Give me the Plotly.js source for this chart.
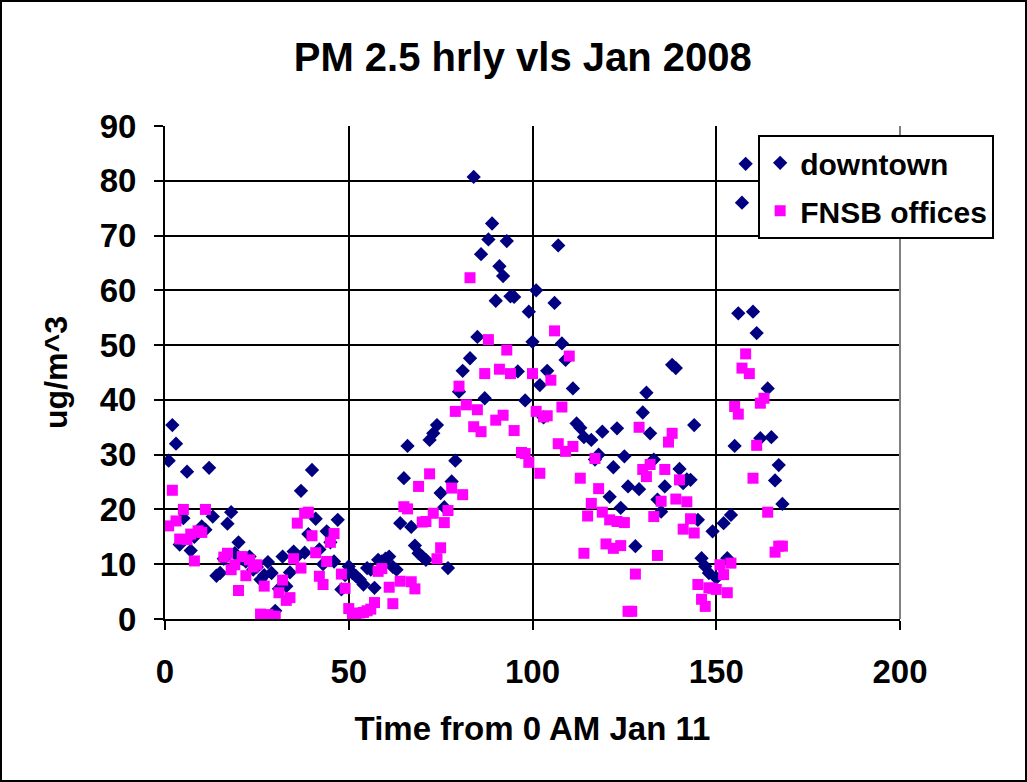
<!DOCTYPE html>
<html><head><meta charset="utf-8">
<script src="https://cdn.plot.ly/plotly-3.0.1.min.js"></script>
<style>
html,body{margin:0;padding:0;background:#fff;}
#wrap{position:relative;width:1027px;height:782px;}
#chart{width:1027px;height:782px;}
#frame{position:absolute;left:0;top:0;width:1027px;height:782px;box-sizing:border-box;border:2px solid #000;pointer-events:none;}
</style>
</head><body>
<div id="wrap"><div id="chart"></div><div id="frame"></div></div>
<script>
// Hours from 0 AM Jan 11 and PM2.5 values (ug/m^3)
const downtownHours = [1,2,3,4,5,6,7,8,9,10,11,12,13,14,15,16,17,18,19,20,21,22,23,24,25,26,27,28,29,30,31,32,33,34,35,36,37,38,39,40,41,42,43,44,45,46,47,48,49,50,51,52,53,54,55,56,57,58,59,60,61,62,63,64,65,66,67,68,69,70,71,72,73,74,75,76,77,78,79,80,81,83,84,85,86,87,88,89,90,91,92,93,94,95,96,98,99,100,101,102,103,104,106,107,108,109,111,112,113,114,116,117,118,119,121,122,123,124,125,126,128,129,130,131,132,133,134,135,136,138,139,140,141,142,143,144,145,146,147,148,149,150,152,153,154,155,156,157,158,160,161,162,164,165,166,167,168];
const downtownValues = [28.9,35.4,32.0,13.6,18.4,26.9,12.5,15.0,16.0,16.9,16.3,27.6,18.7,7.9,8.4,11.0,17.4,19.5,12.0,14.0,11.0,10.5,11.4,9.0,9.5,7.2,8.0,10.4,8.4,1.5,5.5,11.4,6.0,8.5,12.3,11.5,23.4,12.1,15.5,27.2,18.3,12.7,10.0,16.0,14.0,10.5,18.1,5.4,8.0,9.6,8.4,7.8,7.2,6.3,9.3,9.0,5.7,10.8,10.5,11.0,11.4,9.5,9.0,17.5,25.7,31.6,16.8,13.4,12.0,11.4,10.8,32.7,33.9,35.4,23.0,20.4,9.3,25.1,28.9,41.5,45.3,47.6,80.7,51.5,66.6,40.3,69.3,72.2,58.1,64.4,62.6,69.0,58.9,58.8,45.2,39.9,56.1,50.6,60.0,42.7,36.8,45.3,57.7,68.2,50.3,47.3,42.1,35.7,34.9,33.2,32.7,29.1,30.0,34.2,22.3,27.7,34.8,20.3,29.7,24.2,13.3,23.7,37.7,41.3,33.9,29.1,21.8,19.6,24.2,46.4,45.8,27.4,24.8,25.5,25.4,35.4,18.1,11.1,9.6,8.4,16.0,7.5,17.5,11.1,19.0,31.6,55.8,76.0,83.1,56.1,52.2,33.0,42.1,33.2,25.3,28.1,21.0];

const fnsbHours = [1,2,3,4,5,6,7,8,9,10,11,16,17,18,19,20,21,22,23,24,25,26,27,28,29,30,31,32,33,34,35,36,37,38,39,40,41,42,43,44,45,46,48,49,50,51,52,53,54,55,56,57,58,59,61,62,64,65,66,67,68,69,70,71,72,73,74,75,76,77,78,79,80,81,82,83,84,85,86,87,88,90,91,92,93,94,95,97,98,99,100,101,102,103,104,105,106,107,108,109,110,111,113,114,115,116,117,118,119,120,121,122,123,124,125,126,127,128,129,130,131,132,133,134,135,136,137,138,139,140,141,142,143,144,145,146,147,148,149,150,151,152,153,154,155,156,157,158,159,160,161,162,163,164,166,167,168];
const fnsbValues = [17.0,23.5,17.9,14.6,20.0,14.5,15.5,10.6,16.1,15.8,20.0,11.3,12.0,9.0,9.9,5.2,11.4,7.9,10.8,9.5,9.9,0.9,6.0,0.8,0.5,0.5,4.8,7.1,3.4,3.9,11.0,17.5,9.3,19.3,19.5,15.2,12.1,7.8,6.3,10.5,14.0,15.6,8.2,5.6,1.9,0.5,1.0,1.1,1.2,1.5,1.8,3.0,8.7,9.2,5.8,2.8,6.9,20.5,20.1,6.8,5.5,24.2,17.7,17.8,26.5,19.3,11.0,13.0,17.6,19.8,23.9,37.9,42.5,22.7,39.1,62.3,35.1,38.2,34.2,44.8,51.0,36.3,45.6,37.2,49.1,44.8,34.4,30.4,30.2,28.6,44.8,37.9,26.6,36.9,37.1,43.6,52.6,32.0,38.7,30.6,48.0,31.5,25.7,12.0,18.8,21.1,29.3,23.8,19.5,13.7,18.1,12.9,17.8,13.4,17.6,1.4,1.4,8.2,35.0,27.3,26.0,28.2,18.7,11.6,21.5,27.3,32.3,33.9,21.9,25.4,16.4,21.4,18.3,15.7,6.3,3.6,2.3,5.7,5.6,5.4,9.9,8.1,4.8,10.2,38.8,37.4,45.8,48.4,44.8,25.7,31.7,39.4,40.3,19.5,12.2,13.3,13.3];

const xTickVals = [0,50,100,150,200];
const yTickVals = [0,10,20,30,40,50,60,70,80,90];

const FONT = 'Liberation Sans, Arial, sans-serif';

const traces = [
  {x: downtownHours, y: downtownValues, type: 'scatter', mode: 'markers', name: 'downtown',
   legendgroup: 'a',
   marker: {symbol: 'diamond', size: 11, color: '#000080', line: {width: 0}}},
  {x: fnsbHours, y: fnsbValues, type: 'scatter', mode: 'markers', name: 'FNSB offices',
   legendgroup: 'b',
   marker: {symbol: 'square', size: 11, color: '#FF00FF', line: {width: 0}}}
];

const axisCommon = {
  showgrid: true, gridcolor: '#000', gridwidth: 2,
  showline: true, linecolor: '#000', linewidth: 2,
  ticks: 'outside', ticklen: 9, tickwidth: 2, tickcolor: '#000',
  zeroline: false, fixedrange: true,
  tickfont: {family: FONT, size: 33, color: '#000', weight: 'bold'}
};

const layout = {
  width: 1027, height: 782,
  paper_bgcolor: '#fff', plot_bgcolor: '#fff',
  margin: {l: 165, r: 127, t: 126, b: 163, pad: 0},
  showlegend: true,
  title: {text: 'PM 2.5 hrly vls Jan 2008', x: 0.509, xref: 'container', xanchor: 'center',
          y: 0.927, yref: 'container', yanchor: 'middle',
          font: {family: FONT, size: 40, color: '#000', weight: 'bold'}},
  xaxis: Object.assign({}, axisCommon, {
    range: [0, 200], tickmode: 'array', tickvals: xTickVals, ticktext: xTickVals.map(String),
    ticklabelstandoff: 13,
    title: {text: 'Time from 0 AM Jan 11', standoff: 28,
            font: {family: FONT, size: 33, color: '#000', weight: 'bold'}}
  }),
  yaxis: Object.assign({}, axisCommon, {
    range: [0, 90], tickmode: 'array', tickvals: yTickVals, ticktext: yTickVals.map(String),
    ticklabelstandoff: 11,
    title: {text: 'ug/m^3', standoff: 22,
            font: {family: FONT, size: 32, color: '#000', weight: 'bold'}}
  }),
  legend: {x: 0.807, y: 0.982, xanchor: 'left', yanchor: 'top',
           bgcolor: '#fff', bordercolor: '#000', borderwidth: 2,
           tracegroupgap: 6,
           font: {family: FONT, size: 30, color: '#000', weight: 'bold'}},
  shapes: [
    {type: 'line', xref: 'paper', yref: 'paper', x0: 1, x1: 1, y0: 0, y1: 1,
     line: {color: '#808080', width: 2}, layer: 'above'}
  ]
};

Plotly.newPlot('chart', traces, layout, {displayModeBar: false, staticPlot: true});
</script>
</body></html>
